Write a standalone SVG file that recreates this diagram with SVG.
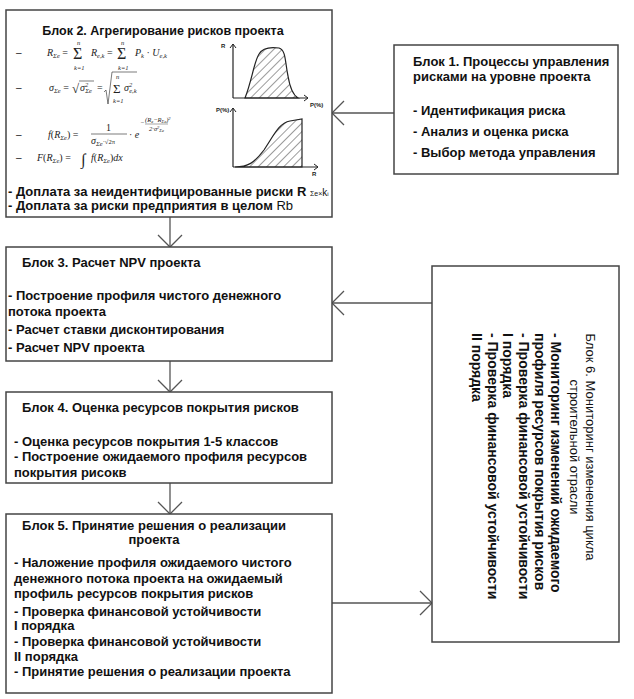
<svg xmlns="http://www.w3.org/2000/svg" width="634" height="699" viewBox="0 0 634 699">
<style>
.box{fill:#fff;stroke:#444;stroke-width:1.5}
.t{font-family:"Liberation Sans",Arial,sans-serif;font-size:13px;font-weight:bold;fill:#111}
.n{font-family:"Liberation Sans",Arial,sans-serif;font-weight:normal}
.f{font-family:"Liberation Serif","Times New Roman",serif;font-size:10px;font-style:italic;fill:#222}
.fs{font-size:6.5px}
.fn{font-style:normal}
.ax{stroke:#222;stroke-width:1.2;fill:none}
.cv{stroke:#222;stroke-width:1.2;fill:url(#hatch)}
.lbl{font-family:"Liberation Sans",Arial,sans-serif;font-size:6px;font-weight:bold;fill:#222}
.con{stroke:#555;stroke-width:1.3;fill:none;marker-end:url(#arr)}
.dash{font-family:"Liberation Sans",Arial,sans-serif;font-size:10px;fill:#222}
.big{font-family:"Liberation Serif","Times New Roman",serif;font-style:normal;fill:#222}
.b6{font-size:14px}
</style>
<defs>
<marker id="arr" markerUnits="userSpaceOnUse" viewBox="-14 -14 16 28" refX="0" refY="0" markerWidth="16" markerHeight="28" orient="auto">
<path d="M-12,-12 L0,0 L-12,12" fill="none" stroke="#555" stroke-width="1.3"/>
</marker>
<marker id="ah" markerUnits="userSpaceOnUse" viewBox="-5 -4 6 8" refX="0" refY="0" markerWidth="6" markerHeight="8" orient="auto">
<path d="M-4,-3 L0,0 L-4,3" fill="none" stroke="#222" stroke-width="1"/>
</marker>
<pattern id="hatch" patternUnits="userSpaceOnUse" width="6" height="6" patternTransform="rotate(45)">
<line x1="0" y1="0" x2="0" y2="6" stroke="#222" stroke-width="0.9"/>
</pattern>
</defs>

<g id="connectors">
<line class="con" x1="170" y1="217" x2="170" y2="247"/>
<line class="con" x1="170" y1="361" x2="170" y2="392"/>
<line class="con" x1="170" y1="483" x2="170" y2="514"/>
<line class="con" x1="394" y1="113" x2="332" y2="113"/>
<line class="con" x1="432" y1="303" x2="332" y2="303"/>
<line class="con" x1="332" y1="603" x2="432" y2="603"/>
</g>

<g id="block2">
<rect class="box" x="6" y="10" width="326" height="207"/>
<text class="t" x="163" y="34.5" text-anchor="middle" style="font-size:12.5px">Блок 2. Агрегирование рисков проекта</text>
<text class="dash" x="16" y="56">–</text>
<text class="dash" x="16" y="91">–</text>
<text class="dash" x="16" y="138">–</text>
<text class="dash" x="16" y="161">–</text>
<!-- formula 1 -->
<text class="f" x="47" y="56">R<tspan class="fs" dy="2">Σe</tspan><tspan class="fn" dy="-2"> = </tspan></text>
<text class="big" x="73" y="59" style="font-size:16px">Σ</text>
<text class="f fs" x="77" y="45">n</text>
<text class="f fs" x="74" y="70">k=1</text>
<text class="f" x="91" y="56">R<tspan class="fs" dy="2">e,k</tspan><tspan class="fn" dy="-2"> = </tspan></text>
<text class="big" x="117" y="59" style="font-size:16px">Σ</text>
<text class="f fs" x="121" y="45">n</text>
<text class="f fs" x="118" y="70">k=1</text>
<text class="f" x="135" y="56">P<tspan class="fs" dy="2">k</tspan><tspan class="fn" dy="-2"> · </tspan>U<tspan class="fs" dy="2">e,k</tspan></text>
<!-- formula 2 -->
<text class="f" x="49" y="91">σ<tspan class="fs" dy="2">Σe</tspan><tspan class="fn" dy="-2"> = </tspan></text>
<text class="big" x="72" y="93" style="font-size:13px">√</text>
<line x1="79" y1="81" x2="94" y2="81" stroke="#222" stroke-width="0.6"/>
<text class="f" x="80" y="91">σ<tspan class="fs" dy="-4">2</tspan><tspan class="fs" dx="-3" dy="6">Σe</tspan></text>
<text class="big" x="97" y="91" style="font-size:10px">=</text>
<path d="M104,92 L106,90 L108,104 L112,72 L137,72" fill="none" stroke="#222" stroke-width="0.6"/>
<text class="big" x="113" y="93" style="font-size:13px">Σ</text>
<text class="f fs" x="116" y="79">n</text>
<text class="f fs" x="113" y="103">k=1</text>
<text class="f" x="124" y="91">σ<tspan class="fs" dy="-4">2</tspan><tspan class="fs" dx="-3" dy="6">e,k</tspan></text>
<!-- formula 3 -->
<text class="f" x="48" y="138">f<tspan class="fn">(</tspan>R<tspan class="fs" dy="2">Σe</tspan><tspan class="fn" dy="-2">) = </tspan></text>
<text class="big" x="106" y="131" style="font-size:10px">1</text>
<line x1="91" y1="134" x2="127" y2="134" stroke="#222" stroke-width="0.6"/>
<text class="f" x="91" y="144">σ<tspan class="fs" dy="2">Σe</tspan><tspan class="fn fs" dy="-2">·√2π</tspan></text>
<text class="f" x="129" y="138"><tspan class="fn">·</tspan> e</text>
<text class="f fs" x="140" y="125">−</text>
<text class="f fs" x="145" y="122">(R<tspan font-size="4.5" dy="1">e</tspan><tspan dy="-1">−R</tspan><tspan font-size="4.5" dy="1">Σe</tspan><tspan dy="-1">)</tspan><tspan font-size="4.5" dy="-2">2</tspan></text>
<line x1="145" y1="124" x2="168" y2="124" stroke="#222" stroke-width="0.4"/>
<text class="f fs" x="149" y="131">2·σ<tspan font-size="4.5" dy="-2">2</tspan><tspan font-size="4.5" dy="3">Σe</tspan></text>
<!-- formula 4 -->
<text class="f" x="37" y="161">F<tspan class="fn">(</tspan>R<tspan class="fs" dy="2">Σe</tspan><tspan class="fn" dy="-2">) = </tspan></text>
<text class="big" x="81" y="165" style="font-size:16px;font-style:italic">∫</text>
<text class="f" x="91" y="161">f<tspan class="fn">(</tspan>R<tspan class="fs" dy="2">Σe</tspan><tspan class="fn" dy="-2">)</tspan>dx</text>
<!-- chart 1 -->
<path class="cv" d="M245,98 C252,80 254,62 259,54 C263,47 272,47 279,48 C286,50 285,62 288,76 C290,88 293,95 298,98 Z"/>
<line class="ax" x1="233" y1="98" x2="233" y2="44" marker-end="url(#ah)"/>
<line class="ax" x1="233" y1="98" x2="308" y2="98" marker-end="url(#ah)"/>
<text class="lbl" x="221" y="48">R</text>
<text class="lbl" x="310" y="107">P(%)</text>
<!-- chart 2 -->
<path class="cv" d="M235,167 C248,167 254,163 264,150 C274,135 279,123 290,121 L302,119 L302,167 Z"/>
<line class="ax" x1="233" y1="167" x2="233" y2="108" marker-end="url(#ah)"/>
<line class="ax" x1="233" y1="167" x2="318" y2="167" marker-end="url(#ah)"/>
<text class="lbl" x="216" y="112">P(%)</text>
<text class="lbl" x="312" y="176">R</text>
<text class="t" x="8" y="196">- Доплата за неидентифицированные риски R <tspan class="n" font-size="7">Σe×</tspan><tspan class="n" font-size="10">k</tspan><tspan class="n" font-size="6">i</tspan></text>
<text class="t" x="8" y="210">- Доплата за риски предприятия в целом  <tspan class="n">Rb</tspan></text>
</g>

<g id="block1">
<rect class="box" x="394" y="45" width="224" height="129"/>
<text class="t" x="413" y="66">Блок 1. Процессы управления</text>
<text class="t" x="413" y="81">рисками на уровне проекта</text>
<text class="t" x="413" y="115">- Идентификация риска</text>
<text class="t" x="413" y="136">- Анализ и оценка риска</text>
<text class="t" x="413" y="157">- Выбор метода управления</text>
</g>

<g id="block3">
<rect class="box" x="6" y="247" width="326" height="114"/>
<text class="t" x="22" y="267">Блок 3. Расчет NPV проекта</text>
<text class="t" x="8" y="300">- Построение профиля чистого денежного</text>
<text class="t" x="8" y="316">потока проекта</text>
<text class="t" x="8" y="334">- Расчет ставки дисконтирования</text>
<text class="t" x="8" y="352">- Расчет NPV проекта</text>
</g>

<g id="block4">
<rect class="box" x="6" y="392" width="326" height="91"/>
<text class="t" x="22" y="412">Блок 4. Оценка ресурсов покрытия рисков</text>
<text class="t" x="14" y="446">- Оценка ресурсов покрытия 1-5 классов</text>
<text class="t" x="14" y="461">- Построение ожидаемого профиля ресурсов</text>
<text class="t" x="14" y="477">покрытия рисокв</text>
</g>

<g id="block5">
<rect class="box" x="6" y="514" width="326" height="179"/>
<text class="t" x="154" y="530" text-anchor="middle">Блок 5. Принятие решения о реализации</text>
<text class="t" x="154" y="544" text-anchor="middle">проекта</text>
<text class="t" x="14" y="567">- Наложение профиля ожидаемого чистого</text>
<text class="t" x="14" y="583">денежного потока проекта на ожидаемый</text>
<text class="t" x="14" y="598">профиль ресурсов покрытия рисков</text>
<text class="t" x="14" y="616">- Проверка финансовой устойчивости</text>
<text class="t" x="14" y="630">I порядка</text>
<text class="t" x="14" y="646">- Проверка финансовой устойчивости</text>
<text class="t" x="14" y="661">II порядка</text>
<text class="t" x="14" y="676">- Принятие решения о реализации проекта</text>
</g>

<g id="block6">
<rect class="box" x="432" y="266" width="187" height="376"/>
<g transform="translate(600,333) rotate(90)">
<text class="t n" x="114" y="14.5" text-anchor="middle">Блок 6. Мониторинг изменения цикла</text>
<text class="t n" x="114" y="30.5" text-anchor="middle">строительной отрасли</text>
<text class="t b6" x="0" y="49.5">- Мониторинг изменений ожидаемого</text>
<text class="t b6" x="0" y="65.5">профиля ресурсов покрытия рисков</text>
<text class="t b6" x="0" y="81.5">- Проверка финансовой устойчивости</text>
<text class="t b6" x="0" y="97.5">I порядка</text>
<text class="t b6" x="0" y="112.5">- Проверка финансовой устойчивости</text>
<text class="t b6" x="0" y="128.5">II порядка</text>
</g>
</g>
</svg>
